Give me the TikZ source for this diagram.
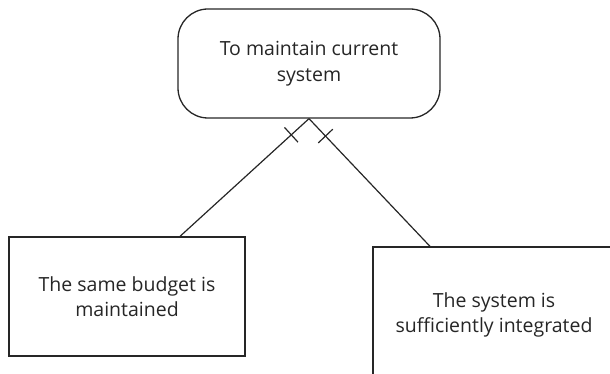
\documentclass[tikz,border=0pt]{standalone}
\usepackage{fontspec}
\setmainfont{Open Sans}
\usetikzlibrary{positioning,decorations.markings}

\begin{document}
\begin{tikzpicture}[x=1pt,y=1pt,node distance=2cm,on grid,line width=1.3pt,
   every node/.style={font=\fontsize{19.5}{25.5}\selectfont,align=center,text=black!85},
   goal/.style={draw=black!85,rounded corners=30pt,minimum width=262pt,minimum height=109pt},
   fact/.style={draw=black!85,minimum width=236pt,minimum height=119pt},
   crossed/.style={draw=black!85,line width=1.2pt,postaction=decorate,
     decoration={markings,mark=at position 24pt with {\draw (0,-10pt) -- (0,10pt);}}}]
   \useasboundingbox (0,0) rectangle (610,-374);
   \node[goal] (goal) at (309,-63.5) {To maintain current\\system};
   \node[fact] (budget) [below left=233pt and 182pt of goal] {The same budget is\\maintained};
   % this one runs off the page on the right and at the bottom
   \node[fact,minimum width=242pt,minimum height=136pt] (integr) [below right=251.5pt and 185pt of goal] {The system is\\sufficiently integrated};

   \path
    (goal.south) edge[crossed] ([xshift=53pt]budget.north)
    (goal.south) edge[crossed] ([xshift=-64pt]integr.north);
\end{tikzpicture}
\end{document}
